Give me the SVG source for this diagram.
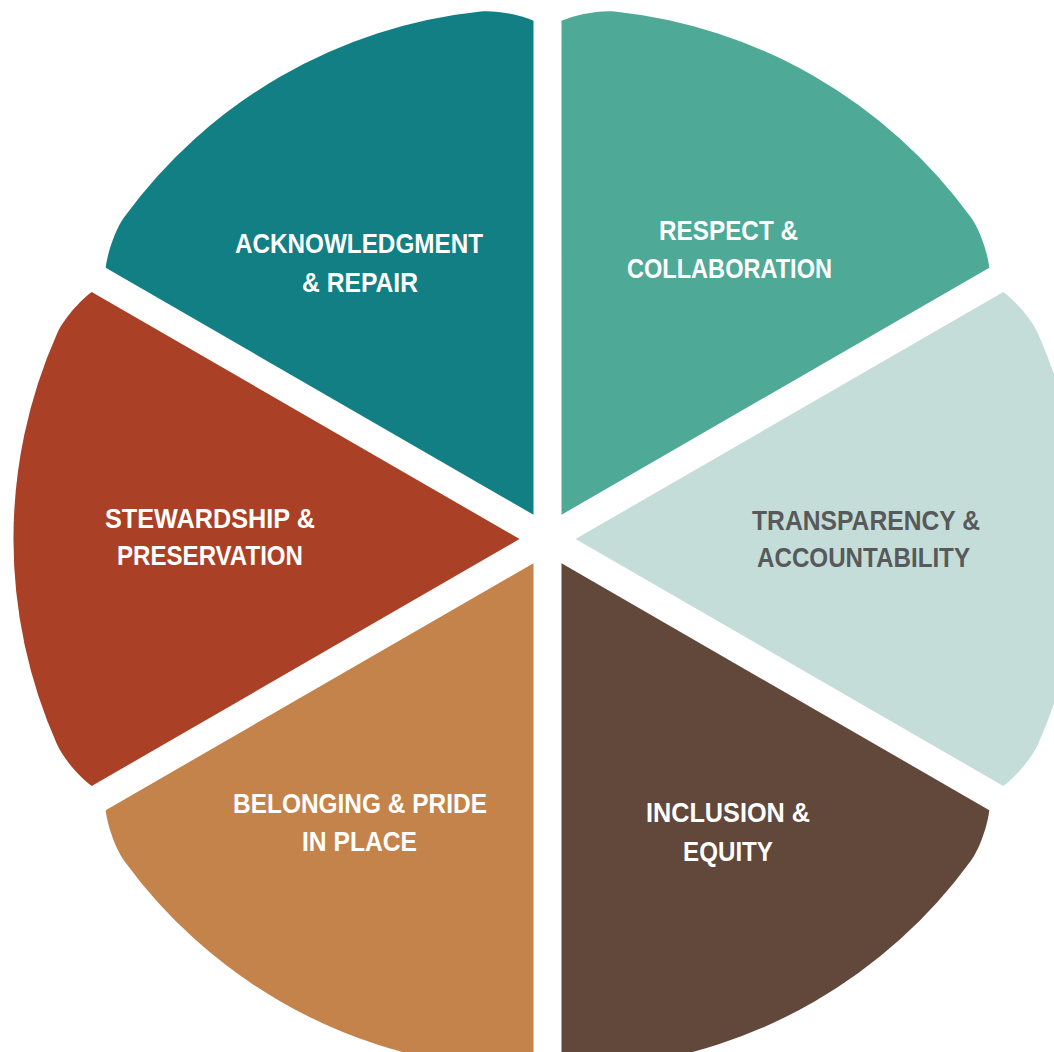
<svg xmlns="http://www.w3.org/2000/svg" xmlns:xlink="http://www.w3.org/1999/xlink" width="1054" height="1052" viewBox="0 0 1054 1052">
  <style>
    .lbl { font-family: "Liberation Sans", Arial, sans-serif; font-weight: bold; font-size: 28px; text-anchor: middle; fill: #ffffff; }
    .dark { fill: #58595b; }
  </style>
  <defs>
    <path id="seg" d="M 28 0 L 455.8 -247 C 468 -238 484.2 -219.5 490.3 -205.8 A 506 506 0 0 1 490.3 205.8 C 484.2 219.5 468 238 455.8 247 Z"/>
  </defs>
  <rect width="1054" height="1052" fill="#ffffff"/>
  <g id="acknowledgment">
    <use xlink:href="#seg" href="#seg" transform="translate(547.5 539) rotate(-120)" fill="#117f84"/>
    <text class="lbl" x="359" y="253" textLength="248" lengthAdjust="spacingAndGlyphs">ACKNOWLEDGMENT</text>
    <text class="lbl" x="360" y="292" textLength="116" lengthAdjust="spacingAndGlyphs">&amp; REPAIR</text>
  </g>
  <g id="respect">
    <use xlink:href="#seg" href="#seg" transform="translate(547.5 539) rotate(-60)" fill="#4fa997"/>
    <text class="lbl" x="728.5" y="240" textLength="139" lengthAdjust="spacingAndGlyphs">RESPECT &amp;</text>
    <text class="lbl" x="729.5" y="278" textLength="205" lengthAdjust="spacingAndGlyphs">COLLABORATION</text>
  </g>
  <g id="transparency">
    <use xlink:href="#seg" href="#seg" transform="translate(547.5 539)" fill="#c5ddd9"/>
    <text class="lbl dark" x="866" y="530" textLength="228" lengthAdjust="spacingAndGlyphs">TRANSPARENCY &amp;</text>
    <text class="lbl dark" x="863.5" y="567" textLength="213" lengthAdjust="spacingAndGlyphs">ACCOUNTABILITY</text>
  </g>
  <g id="inclusion">
    <use xlink:href="#seg" href="#seg" transform="translate(547.5 539) rotate(60)" fill="#61483b"/>
    <text class="lbl" x="728" y="822" textLength="164" lengthAdjust="spacingAndGlyphs">INCLUSION &amp;</text>
    <text class="lbl" x="728" y="861" textLength="90" lengthAdjust="spacingAndGlyphs">EQUITY</text>
  </g>
  <g id="belonging">
    <use xlink:href="#seg" href="#seg" transform="translate(547.5 539) rotate(120)" fill="#c4834a"/>
    <text class="lbl" x="360" y="813" textLength="254" lengthAdjust="spacingAndGlyphs">BELONGING &amp; PRIDE</text>
    <text class="lbl" x="359.5" y="851" textLength="115" lengthAdjust="spacingAndGlyphs">IN PLACE</text>
  </g>
  <g id="stewardship">
    <use xlink:href="#seg" href="#seg" transform="translate(547.5 539) rotate(180)" fill="#aa4025"/>
    <text class="lbl" x="210" y="528" textLength="210" lengthAdjust="spacingAndGlyphs">STEWARDSHIP &amp;</text>
    <text class="lbl" x="210" y="565" textLength="186" lengthAdjust="spacingAndGlyphs">PRESERVATION</text>
  </g>
  <g id="connectors"/>
</svg>
